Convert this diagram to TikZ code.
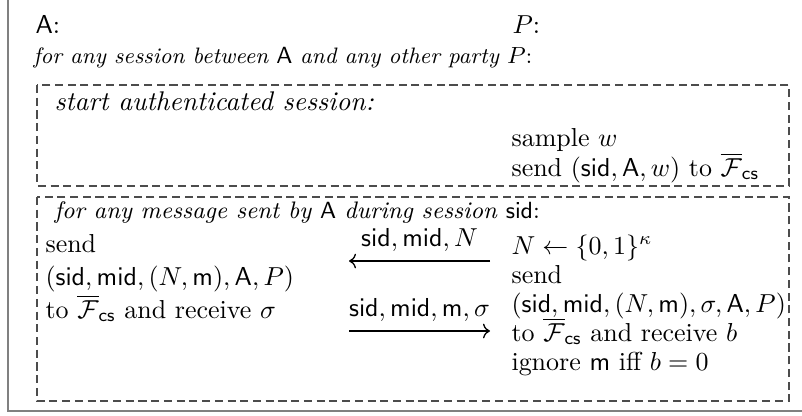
\documentclass[tikz,border=0pt]{standalone}
\usepackage{amsmath}
\usepackage{amssymb}
\usetikzlibrary{arrows.meta, positioning}

\newcommand{\Sid}{\mathsf{sid}}
\newcommand{\Mid}{\mathsf{mid}}
\newcommand{\Msg}{\mathsf{m}}
\newcommand{\PA}{\mathsf{A}}
\newcommand{\Fcs}{\overline{\mathcal{F}}_{\mathsf{cs}}}

\begin{document}
\begin{tikzpicture}[
  x=0.385pt, y=-0.385pt,
  frame/.style={draw=black!50, line width=0.8pt},
  phase/.style={draw=black!70, line width=0.42pt, dash pattern=on 3.1pt off 1.8pt},
  txt/.style={anchor=base west, inner sep=0pt},
  head/.style={txt, font=\fontsize{8.6}{10}\selectfont},
  msg/.style={line width=0.5pt}
]
\useasboundingbox (0,0) rectangle (802,415);
\draw[frame] (8,0) -- (8,411) -- (802,411);

% parties
\node[txt] (partyA) at (35,33) {$\PA$:};
\node[txt] (partyP) at (512,33) {$P$:};
\node[head] (loop) at (33,63) {\textit{for any session between} $\PA$ \textit{and any other party} $P$:};

% session set-up
\draw[phase] (37,85) rectangle (789,186);
\node[txt, font=\fontsize{10.4}{12}\selectfont] (start) at (54,110) {\textit{start authenticated session:}};
\node[txt] (sample) at (511,146) {sample $w$};
\node[txt] (sendw) at (511,176) {send $(\Sid,\PA,w)$ to $\Fcs$};

% messages
\draw[phase] (37,197) rectangle (789,401);
\node[head, font=\fontsize{9.2}{11}\selectfont] (each) at (54,218) {\textit{for any message sent by} $\PA$ \textit{during session} $\Sid$:};

% sender A
\node[txt] (sendA) at (45,252) {send};
\node[txt] (tupA) at (45,285) {$(\Sid,\Mid,(N,\Msg),\PA,P)$};
\node[txt] (signA) at (45,318) {to $\Fcs$ and receive $\sigma$};

% receiver P
\node[txt] (nonce) at (511,254) {$N \leftarrow \{0,1\}^\kappa$};
\node[txt] (sendP) at (511,283) {send};
\node[txt] (tupP) at (511,312) {$(\Sid,\Mid,(N,\Msg),\sigma,\PA,P)$};
\node[txt] (vrfyP) at (511,341) {to $\Fcs$ and receive $b$};
\node[txt] (ignP) at (511,370) {ignore $\Msg$ iff $b=0$};

\coordinate (nonceR) at (490,261);
\coordinate (nonceL) at (349,261);
\coordinate (sigL) at (349,331);
\coordinate (sigR) at (490,331);
\draw[msg, ->] (nonceR) -- node[above] {$\Sid,\Mid,N$} (nonceL);
\draw[msg, ->] (sigL) -- node[above] {$\Sid,\Mid,\Msg,\sigma$} (sigR);
\end{tikzpicture}
\end{document}
